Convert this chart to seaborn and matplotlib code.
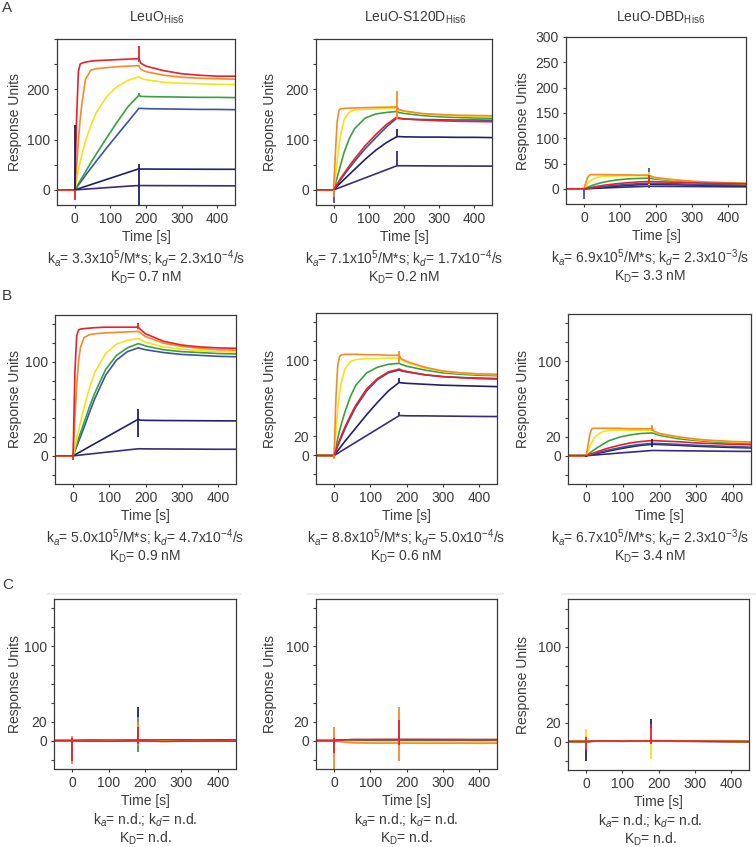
import matplotlib
matplotlib.use("Agg")
import matplotlib.pyplot as plt
from matplotlib.lines import Line2D
import seaborn as sns
import pandas as pd

T = [-50, 0, 5, 10, 15, 20, 30, 45, 60, 90, 120, 150, 180, 185, 200, 250, 300, 350, 400, 450]
T_C = [-50, -20, 0, 20, 50, 100, 150, 180, 220, 250, 300, 350, 400, 450]

# concentrations, lowest -> highest (drawn in this order)
CONCS = ["c1", "c2", "c3", "c4", "c5", "c6", "c7"]
COLORS = ["#3d2a78", "#1f2266", "#3b55a5", "#3aa040", "#f7e21a", "#f58a2c", "#e8202a"]

# ---- row A ----
A1_RU = [
    [0, 0, 0.3, 0.5, 0.8, 1, 1.5, 2.3, 3, 4.5, 6, 7.5, 8.7, 8.7, 8.6, 8.5, 8.4, 8.3, 8.2, 8.1],
    [0, 0, 1.2, 2.3, 3.5, 4.7, 7, 10.5, 14, 21, 28, 35, 42, 41.5, 41.5, 41.3, 41.2, 41.1, 41, 41],
    [0, 0, 4.8, 9.6, 14.4, 19, 29, 43, 57, 84, 110, 136, 162, 162, 161.5, 161, 160.5, 160, 160, 159.5],
    [0, 0, 6, 12, 18, 24, 36, 54, 71, 104, 136, 166, 188, 186, 185.5, 185, 184.5, 184, 184, 183.5],
    [0, 0, 20, 38, 55, 70, 97, 128, 153, 186, 206, 218, 225, 222, 219, 214, 212, 211, 210, 209.5],
    [0, 0, 45, 95, 140, 172, 220, 238, 241, 243, 245, 246, 247, 240, 235, 228, 224, 222, 221, 220],
    [0, 0, 140, 235, 250, 252, 254, 256, 257, 258, 259, 260, 261, 252, 246, 237, 231, 228, 226, 226],
]
A2_RU = [
    [0, 0, 1.3, 2.7, 4, 5.3, 8, 12, 16, 24, 32, 40, 48, 48, 48, 47.8, 47.6, 47.5, 47.4, 47.3],
    [0, 0, 3.5, 7, 10.5, 14, 21, 31, 41, 61, 79, 94, 106, 106, 105.5, 105, 105, 104.5, 104.5, 104],
    [0, 0, 5, 10, 15, 20, 30, 44, 57, 82, 104, 125, 143, 142, 141, 140, 139.5, 139, 139, 138.5],
    [0, 0, 12, 25, 37, 50, 75, 103, 122, 143, 151, 154, 156, 154, 152, 148, 145.5, 144, 143, 142.5],
    [0, 0, 25, 55, 85, 110, 140, 155, 159, 160, 161, 162, 163, 159, 156, 151, 148.5, 147, 146, 145.5],
    [0, 0, 70, 135, 158, 161, 162, 162.5, 163, 163.5, 164, 164.5, 165, 160, 157, 152, 150, 148.5, 148, 147.5],
    [0, 0, 6, 12, 17, 23, 33, 48, 62, 88, 110, 130, 145, 143, 141, 139, 137.5, 136.5, 136, 135.5],
]
A3_RU = [
    [0, 0, 0.15, 0.3, 0.45, 0.6, 0.9, 1.35, 1.8, 2.7, 3.5, 4.3, 5, 5, 4.9, 4.7, 4.5, 4.3, 4.1, 4],
    [0, 0, 0.3, 0.6, 0.9, 1.2, 1.8, 2.7, 3.6, 5.3, 6.8, 8, 9, 9, 8.8, 8.2, 7.5, 7, 6.6, 6.2],
    [0, 0, 0.4, 0.8, 1.2, 1.6, 2.5, 3.7, 4.8, 7, 8.8, 10, 11, 11, 10.8, 10, 9, 8.3, 7.8, 7.3],
    [0, 0, 1.5, 3, 4.5, 6, 8.5, 11.5, 14, 17.5, 19.5, 20.5, 21, 20.5, 19, 16, 13.5, 11.5, 10.5, 9.5],
    [0, 0, 5, 10, 14, 17, 21, 24, 25, 25.5, 26, 26, 26, 24, 21, 17, 14.5, 12.5, 11.5, 10.5],
    [0, 0, 12, 22, 27, 28, 28, 28, 28, 27.5, 27.5, 27, 27, 25, 22, 18, 15, 13, 12, 11],
    [0, 0, 0.7, 1.4, 2, 2.7, 4, 5.8, 7.5, 10, 12, 13.5, 14.5, 14.5, 14, 13, 12, 11, 10.5, 10],
]

# ---- row B ----
B1_RU = [
    [0, 0, 0.2, 0.4, 0.6, 0.8, 1.3, 1.9, 2.5, 3.8, 5, 6.3, 7.5, 7.5, 7.4, 7.3, 7.2, 7.1, 7, 7],
    [0, 0, 1.1, 2.2, 3.3, 4.3, 6.5, 9.8, 13, 19.5, 26, 32.5, 39, 38, 37.8, 37.6, 37.5, 37.4, 37.3, 37.2],
    [0, 0, 5, 10, 15, 20, 30, 46, 61, 86, 102, 111, 115, 114.5, 113, 110, 108, 107, 106, 105.5],
    [0, 0, 6, 12, 18, 24, 35, 52, 67, 92, 107, 115, 119.5, 119, 117, 113, 111, 110, 109, 108.5],
    [0, 0, 9, 18, 27, 35, 51, 72, 89, 109, 119, 123, 125, 124, 121, 116, 113.5, 112, 111, 110.5],
    [0, 0, 40, 75, 100, 115, 126, 129, 130, 131, 131.5, 132, 132.5, 131, 127, 120, 116.5, 114.5, 113, 112.5],
    [0, 0, 90, 128, 134, 135, 135.5, 136, 136.5, 137, 137, 137, 137, 135, 130, 122, 118, 116, 115, 114.5],
]
B2_RU = [
    [0, 0, 1.2, 2.3, 3.5, 4.7, 7, 10.5, 14, 21, 28, 35, 42, 42, 41.8, 41.7, 41.5, 41.3, 41.1, 41],
    [0, 0, 2.5, 5, 7.5, 10, 15, 22, 29, 43, 56, 68, 77, 76.5, 76, 75, 74, 73.5, 73, 72.5],
    [0, 0, 5, 10, 14.5, 19, 28, 40, 51, 68, 80, 87, 90, 89, 88, 85, 83, 82, 81.5, 81],
    [0, 0, 9, 18, 26, 33, 46, 62, 74, 87, 93, 96, 97, 96, 94, 90, 87, 85.5, 84.5, 84],
    [0, 0, 25, 48, 65, 77, 91, 99, 101, 102, 102, 102.5, 102.5, 101, 98, 92, 88.5, 86.5, 85.5, 85],
    [0, 0, 60, 95, 104, 106, 106.5, 106.5, 106.5, 106, 106, 105.5, 105.5, 102, 99, 93, 89, 87, 86, 85.5],
    [0, 0, 5.5, 11, 16, 21, 30, 42, 53, 70, 81, 88, 91, 90, 88.5, 85, 83, 82, 81, 80.5],
]
B3_RU = [
    [0, 0, 0.15, 0.3, 0.5, 0.6, 0.9, 1.4, 1.8, 2.8, 3.7, 4.6, 5.5, 5.5, 5.4, 5.2, 5, 4.8, 4.6, 4.5],
    [0, 0, 0.4, 0.8, 1.2, 1.6, 2.4, 3.6, 4.8, 7.2, 9.2, 11, 12, 12, 11.8, 11, 10, 9.3, 8.7, 8.2],
    [0, 0, 0.5, 1, 1.5, 2, 3, 4.4, 5.8, 8.3, 10.5, 12, 13, 13, 12.8, 12, 11, 10.3, 9.6, 9],
    [0, 0, 1.5, 3, 4.4, 5.8, 8.5, 12, 15.5, 19.5, 22, 23.5, 24, 23.5, 21.5, 18, 16, 14.5, 13.5, 13],
    [0, 0, 5, 10, 14, 17.5, 22, 25.5, 26.5, 27, 27, 27, 27, 25.5, 23, 19.5, 17, 15.5, 14.5, 14],
    [0, 0, 12, 23, 28.5, 29, 29, 29, 29, 29, 28.5, 28.5, 28.5, 26, 23.5, 20, 17.5, 16, 15, 14.5],
    [0, 0, 0.7, 1.4, 2.1, 2.8, 4.2, 6.2, 8, 11, 13.5, 15, 16, 16, 15.6, 14.8, 13.5, 12.7, 12, 11.5],
]

# ---- row C (no binding) ----
C1_RU = [
    [0, 0, 0, 0.2, 0.3, 0.2, 0.3, 0.4, 0.3, 0.4, 0.5, 0.4, 0.5, 0.4],
    [0, 0, 0, 0.1, 0.2, 0.1, 0.2, 0.3, 0.2, 0.3, 0.4, 0.3, 0.4, 0.3],
    [0, 0, 0, 0.1, 0.1, 0.2, 0.1, 0.2, 0.1, 0.2, 0.3, 0.2, 0.3, 0.2],
    [0, 0, 0, -0.2, -0.1, -0.2, 0, 0.1, -0.1, -0.2, 0, 0.1, 0, -0.1],
    [0, 0, 0, -0.3, -0.4, -0.3, -0.2, 0, -0.4, -0.5, -0.3, -0.2, -0.3, -0.4],
    [0, 0, 0, -0.4, -0.5, -0.4, -0.3, 0, -0.5, -0.7, -0.5, -0.4, -0.4, -0.5],
    [0, 0, 0, -0.3, -0.4, -0.5, -0.3, 0, -0.4, -0.8, -0.5, -0.4, -0.3, -0.4],
]
C2_RU = [
    [0, 0, 0, 0.5, 1, 1, 1, 1, 1, 1, 1, 1, 1, 1],
    [0, 0, 0, 0.4, 0.8, 0.9, 0.9, 1, 0.9, 0.9, 0.9, 0.9, 0.8, 0.9],
    [0, 0, 0, 0.3, 0.6, 0.7, 0.7, 0.8, 0.7, 0.7, 0.7, 0.7, 0.6, 0.7],
    [0, 0, 0, -0.2, -0.4, -0.5, -0.5, -0.4, -0.5, -0.5, -0.5, -0.5, -0.6, -0.5],
    [0, 0, 0, -0.6, -1.1, -1.3, -1.3, -1.2, -1.3, -1.3, -1.3, -1.3, -1.4, -1.3],
    [0, 0, 0, -1.2, -2.3, -2.6, -2.6, -2.5, -2.7, -2.7, -2.7, -2.6, -2.8, -2.6],
    [0, 0, 0, 0.6, 1.2, 1.2, 1.3, 1.2, 1.3, 1.3, 1.2, 1.2, 1.1, 1.2],
]
C3_RU = [
    [0, 0, 0, 0.3, 0.4, 0.3, 0.4, 0.5, 0.4, 0.3, 0.3, 0.2, 0.1, 0],
    [0, 0, 0, 0.3, 0.4, 0.3, 0.4, 0.5, 0.4, 0.3, 0.2, 0.1, 0.1, 0],
    [0, 0, 0, 0.4, 0.5, 0.4, 0.5, 0.6, 0.5, 0.4, 0.3, 0.2, 0, -0.2],
    [0, 0, 0, 0.4, 0.6, 0.5, 0.6, 0.7, 0.6, 0.5, 0.5, 0.4, 0.2, 0],
    [0, 0, 0, 0.5, 0.7, 0.5, 0.6, 0.8, 0.7, 0.6, 0.5, 0.4, 0.2, 0.1],
    [0, 0, 0, 0.5, 0.6, 0.5, 0.6, 0.8, 0.7, 0.5, 0.4, 0.3, 0.1, 0],
    [0, 0, 0, 0.4, 0.6, 0.4, 0.5, 0.7, 0.6, 0.5, 0.4, 0.3, 0.1, -0.1],
]

# injection artefacts: (time, low, high, concentration index)
A1_SPIKES = [(0, 0, 129, 1), (0, -20, 0, 6), (180, -30, 52, 1), (180, 188, 193, 3), (180, 255, 287, 6)]
A2_SPIKES = [(0, -26, 0, 2), (0, -15, 0, 5), (180, 106, 122, 1), (180, 48, 77, 0), (180, 140, 197, 5)]
A3_SPIKES = [(0, -20, 0, 2), (180, 2, 41, 2), (180, 8, 33, 4), (180, 10, 28, 6)]
B1_SPIKES = [(0, -4, 0, 6), (180, 20, 50, 1), (180, 135, 141, 6)]
B2_SPIKES = [(0, -4, 0, 5), (180, 42, 46, 0), (180, 76, 82, 1), (180, 97, 110, 5)]
B3_SPIKES = [(0, -1, 0, 1), (180, 9, 18, 1), (180, 26, 32, 5)]
C1_SPIKES = [(0, -25, 5, 5), (0, -22, 3, 6), (180, 25, 36, 1), (180, -12, 25, 3),
             (180, -5, 20, 5), (180, -4, 14, 6)]
C2_SPIKES = [(0, -30, 14, 5), (0, -13, 3, 6), (180, -22, 36, 5), (180, -5, 22, 6)]
C3_SPIKES = [(0, -20, -8, 1), (0, -3, 13, 4), (0, -10, 5, 6), (180, 14, 24, 1),
             (180, -18, -2, 4), (180, -3, 18, 6)]

TITLES = [r"LeuO$_{\mathrm{His6}}$", r"LeuO-S120D$_{\mathrm{His6}}$", r"LeuO-DBD$_{\mathrm{His6}}$"]
KA = [["3.3", "5"], ["7.1", "5"], ["6.9", "5"], ["5.0", "5"], ["8.8", "5"], ["6.7", "5"]]
KD = [["2.3", "-4"], ["1.7", "-4"], ["2.3", "-3"], ["4.7", "-4"], ["5.0", "-4"], ["2.3", "-3"]]
KDISS = ["0.7", "0.2", "3.3", "0.9", "0.6", "3.4"]

sns.set_style("ticks")
plt.rcParams["font.family"] = ["Liberation Sans", "DejaVu Sans"]
plt.rcParams["mathtext.fontset"] = "custom"
plt.rcParams["mathtext.rm"] = "Liberation Sans"
plt.rcParams["mathtext.it"] = "Liberation Sans:italic"
plt.rcParams["mathtext.bf"] = "Liberation Sans:bold"

W, H = 756, 847
INK = "#3a3a3a"

# axes boxes in pixels: left, right, top, bottom
BOXES = [
    (57, 235, 39, 205), (316, 492, 39, 205), (566, 746, 37, 204),
    (55, 236, 315, 484), (316, 497, 313, 484), (568, 751, 314, 484),
    (54, 236, 599, 769), (316, 497, 599, 769), (568, 749, 599, 770),
]
YLAB_X = [15, 270, 523, 15, 270, 523, 15, 270, 523]


def long_frame(times, curves):
    rows = []
    for conc, vals in zip(CONCS, curves):
        for t, v in zip(times, vals):
            rows.append((t, v, conc))
    return pd.DataFrame(rows, columns=["time", "ru", "conc"])


fig = plt.figure(figsize=(W / 100, H / 100), dpi=100)

panels = [
    (T, A1_RU, A1_SPIKES), (T, A2_RU, A2_SPIKES), (T, A3_RU, A3_SPIKES),
    (T, B1_RU, B1_SPIKES), (T, B2_RU, B2_SPIKES), (T, B3_RU, B3_SPIKES),
    (T_C, C1_RU, C1_SPIKES), (T_C, C2_RU, C2_SPIKES), (T_C, C3_RU, C3_SPIKES),
]

for i, (times, curves, spikes) in enumerate(panels):
    l, r, t, b = BOXES[i]
    ax = fig.add_axes([l / W, 1 - b / H, (r - l) / W, (b - t) / H])
    df = long_frame(times, curves)
    sns.lineplot(data=df, x="time", y="ru", hue="conc", hue_order=CONCS,
                 palette=COLORS, estimator=None, sort=False, legend=False,
                 lw=1.2, ax=ax)
    for st, lo, hi, ci in spikes:
        ax.vlines(st, lo, hi, color=COLORS[ci], lw=1.3)

    ax.set_xlim(-50, 450)
    ax.set_xticks([0, 100, 200, 300, 400])
    if i < 3:
        ax.set_ylim(-30, 300)
        ticks = list(range(0, 301, 50))
        if i == 2:
            labels = [str(v) for v in ticks]
        else:
            labels = [str(v) if v in (0, 100, 200) else "" for v in ticks]
    else:
        ax.set_ylim(-30, 150)
        ticks = list(range(-20, 141, 20))
        labels = [str(v) if v in (0, 20, 100) else "" for v in ticks]
    ax.set_yticks(ticks)
    ax.set_yticklabels(labels)

    for sp in ax.spines.values():
        sp.set_color(INK)
        sp.set_linewidth(0.9)
    ax.tick_params(length=2.5, width=0.8, pad=2.5, color=INK, labelcolor=INK, labelsize=10)

    ax.set_xlabel("Time [s]", fontsize=10, color=INK)
    ax.set_ylabel("Response Units", fontsize=10, color=INK)
    ax.xaxis.set_label_coords(0.5, -32 / (b - t))
    ax.xaxis.label.set_va("center")
    ax.yaxis.set_label_coords((YLAB_X[i] - l) / (r - l), 0.5)
    ax.yaxis.label.set_va("center")

    cx = (l + r) / 2 if i % 3 != 2 else 650
    if i < 6:
        ka, kd = KA[i], KD[i]
        line1 = (r"k$_{\mathit{a}}$= " + ka[0] + r"x10$^{" + ka[1] + r"}$/M*s; k$_{\mathit{d}}$= "
                 + kd[0] + r"x10$^{" + kd[1] + r"}$/s")
        line2 = r"K$_{\mathrm{D}}$= " + KDISS[i] + " nM"
        yc = b + 62
    else:
        line1 = r"k$_{\mathit{a}}$= n.d.; k$_{\mathit{d}}$= n.d."
        line2 = r"K$_{\mathrm{D}}$= n.d."
        yc = b + 60
    fig.text(cx / W, 1 - yc / H, line1 + "\n" + line2, ha="center", va="center",
             multialignment="center", linespacing=1.05, fontsize=10, color=INK)

for x, title in zip([157, 415, 661], TITLES):
    fig.text(x / W, 1 - 18 / H, title, ha="center", va="center", fontsize=10, color=INK)

for y, letter in zip([8, 296, 585], ["A", "B", "C"]):
    fig.text(2 / W, 1 - y / H, letter, ha="left", va="center", fontsize=11, color=INK)

# faint separator above row C
for x0, x1 in [(48, 241), (308, 503), (562, 756)]:
    fig.add_artist(Line2D([x0 / W, x1 / W], [1 - 594 / H, 1 - 594 / H],
                          color="#ececec", lw=1.5, transform=fig.transFigure))

fig.savefig("out.png", dpi=100)
